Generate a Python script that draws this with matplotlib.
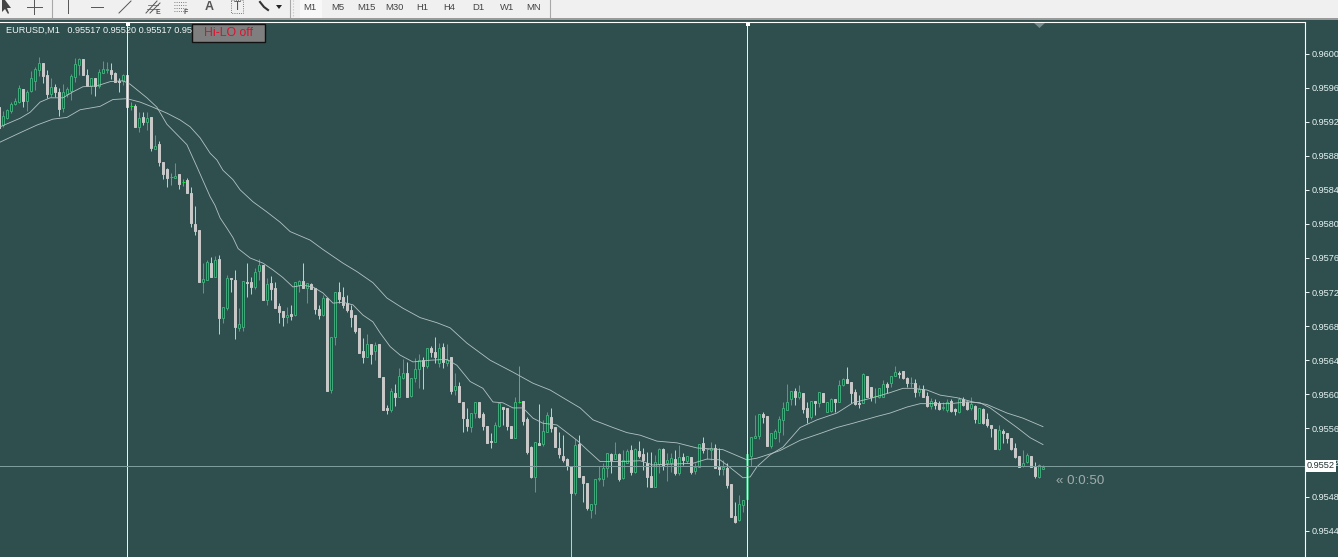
import matplotlib
matplotlib.use('Agg')
import matplotlib.pyplot as plt
import numpy as np
from matplotlib.patches import Rectangle, Polygon
from matplotlib.transforms import blended_transform_factory

plt.rcParams['font.family'] = ['Liberation Sans', 'DejaVu Sans']

# candles, in points (1/100000), oldest first
opens = [95937,
    95916,95924,95933,95941,95943,95958,95944,95956,95968,95981,
    95989,95975,95952,95961,95955,95936,95952,95956,95972,95986,
    95994,95975,95962,95971,95962,95977,95981,95981,95977,95968,
    95968,95975,95938,95938,95914,95925,95920,95925,95888,95894,
    95873,95864,95855,95854,95859,95849,95852,95836,95800,95793,
    95732,95734,95754,95738,95759,95690,95701,95736,95734,95678,
    95679,95732,95732,95726,95745,95752,95711,95731,95725,95704,
    95698,95691,95694,95693,95728,95733,95725,95730,95725,95700,
    95693,95713,95605,95667,95720,95714,95707,95699,95693,95678,
    95651,95644,95659,95651,95659,95620,95584,95581,95602,95597,
    95619,95625,95598,95619,95630,95640,95633,95654,95650,95637,
    95655,95637,95644,95605,95610,95591,95571,95562,95578,95591,
    95577,95563,95545,95544,95563,95585,95584,95563,95549,95591,
    95592,95571,95538,95503,95543,95542,95556,95573,95562,95537,
    95528,95524,95516,95484,95542,95504,95496,95464,95471,95500,
    95500,95514,95530,95524,95530,95502,95519,95535,95509,95533,
    95530,95519,95504,95491,95518,95536,95519,95519,95524,95508,
    95526,95522,95526,95510,95515,95543,95536,95535,95537,95515,
    95512,95514,95495,95457,95453,95470,95477,95528,95549,95551,
    95577,95575,95539,95549,95556,95570,95582,95594,95604,95597,
    95602,95584,95573,95592,95590,95602,95579,95580,95594,95591,
    95611,95618,95615,95603,95590,95590,95622,95609,95598,95597,
    95597,95612,95613,95622,95625,95627,95619,95613,95613,95603,
    95606,95598,95586,95591,95590,95584,95582,95592,95583,95579,
    95595,95591,95584,95586,95566,95583,95571,95564,95559,95536,
    95557,95554,95549,95537,95528,95516,95521,95528,95515,95503,95512]
highs = [95937,
    95933,95935,95943,95948,95963,95958,95957,95980,95984,95996,
    95989,95981,95971,95964,95960,95964,95961,95976,95995,95995,
    95994,95982,95971,95971,95982,95991,95990,95989,95978,95971,
    95976,95976,95943,95941,95931,95931,95931,95925,95904,95897,
    95873,95866,95860,95871,95859,95853,95854,95843,95821,95793,
    95754,95758,95761,95762,95764,95703,95740,95737,95746,95701,
    95733,95754,95738,95748,95759,95752,95737,95739,95732,95707,
    95698,95703,95705,95732,95734,95754,95731,95731,95725,95705,
    95717,95713,95667,95720,95732,95726,95717,95705,95693,95678,
    95666,95671,95659,95661,95659,95620,95588,95607,95612,95631,
    95641,95638,95619,95643,95647,95644,95654,95657,95667,95660,
    95660,95659,95644,95625,95615,95591,95584,95578,95591,95591,
    95579,95563,95554,95568,95590,95585,95584,95563,95597,95633,
    95592,95573,95539,95544,95589,95570,95579,95584,95562,95556,
    95552,95525,95516,95547,95552,95504,95496,95471,95501,95516,
    95519,95531,95531,95544,95531,95535,95536,95541,95537,95545,
    95537,95532,95532,95529,95537,95537,95531,95531,95535,95541,
    95531,95528,95526,95519,95542,95550,95536,95544,95542,95537,
    95523,95519,95495,95474,95482,95476,95530,95550,95576,95577,
    95579,95575,95555,95559,95575,95591,95612,95604,95607,95611,
    95602,95591,95592,95592,95603,95602,95591,95596,95594,95617,
    95619,95632,95615,95606,95599,95625,95622,95609,95607,95607,
    95617,95615,95622,95633,95627,95627,95620,95620,95618,95611,
    95611,95603,95596,95595,95592,95591,95594,95594,95584,95597,
    95597,95592,95597,95588,95584,95584,95578,95564,95559,95564,
    95559,95554,95549,95543,95528,95535,95531,95528,95521,95518,95517]
lows = [95913,
    95914,95923,95930,95940,95942,95937,95933,95955,95957,95974,
    95965,95948,95949,95949,95927,95931,95949,95946,95967,95975,
    95975,95962,95952,95950,95960,95977,95977,95970,95967,95955,
    95963,95936,95934,95914,95908,95916,95910,95886,95888,95868,
    95853,95843,95846,95854,95841,95845,95836,95796,95787,95732,
    95719,95734,95738,95738,95671,95684,95699,95720,95665,95674,
    95674,95714,95718,95724,95734,95711,95705,95711,95701,95684,
    95680,95684,95687,95692,95720,95725,95707,95723,95694,95688,
    95692,95604,95602,95658,95707,95701,95697,95679,95672,95648,
    95637,95644,95636,95640,95620,95582,95577,95579,95586,95597,
    95618,95597,95597,95615,95607,95606,95631,95644,95637,95632,
    95631,95633,95600,95599,95591,95556,95557,95556,95572,95572,
    95558,95543,95537,95544,95562,95564,95558,95549,95549,95590,
    95564,95530,95502,95485,95541,95539,95556,95556,95538,95525,
    95521,95511,95409,95482,95503,95474,95464,95455,95459,95498,
    95492,95503,95508,95524,95498,95500,95519,95505,95508,95525,
    95511,95491,95491,95491,95508,95511,95498,95509,95505,95505,
    95517,95519,95507,95507,95515,95531,95524,95523,95514,95505,
    95505,95490,95456,95449,95451,95462,95477,95516,95549,95548,
    95566,95539,95537,95547,95544,95552,95582,95588,95588,95594,
    95578,95566,95571,95576,95585,95591,95579,95579,95579,95591,
    95610,95613,95590,95588,95584,95590,95597,95592,95590,95596,
    95597,95602,95609,95622,95619,95618,95609,95609,95597,95598,
    95597,95585,95583,95583,95582,95582,95579,95579,95576,95578,
    95586,95582,95582,95566,95566,95565,95562,95550,95536,95535,
    95543,95543,95535,95525,95515,95515,95519,95515,95502,95502,95512]
closes = [95913,
    95927,95934,95941,95944,95960,95944,95955,95971,95982,95989,
    95974,95952,95961,95955,95935,95955,95958,95974,95988,95994,
    95975,95962,95971,95962,95978,95982,95982,95976,95967,95967,
    95975,95937,95938,95914,95924,95920,95924,95889,95891,95873,
    95859,95854,95855,95856,95847,95849,95836,95801,95792,95732,
    95735,95755,95738,95758,95690,95703,95737,95735,95679,95683,
    95733,95731,95726,95744,95752,95711,95730,95724,95701,95697,
    95691,95693,95692,95732,95733,95725,95731,95724,95700,95693,
    95713,95604,95667,95720,95712,95705,95699,95691,95674,95648,
    95644,95659,95647,95658,95620,95582,95581,95604,95597,95622,
    95625,95597,95619,95630,95640,95633,95654,95650,95644,95654,
    95638,95640,95604,95610,95591,95572,95563,95578,95591,95573,
    95563,95543,95544,95564,95590,95583,95563,95549,95591,95591,
    95569,95532,95503,95544,95541,95557,95576,95561,95538,95530,
    95523,95516,95484,95541,95503,95496,95467,95471,95501,95502,
    95514,95531,95523,95530,95500,95523,95533,95509,95536,95528,
    95523,95503,95491,95521,95536,95516,95523,95525,95508,95526,
    95523,95528,95509,95515,95542,95535,95536,95537,95514,95512,
    95515,95494,95456,95450,95471,95476,95530,95550,95551,95577,
    95573,95539,95555,95557,95571,95584,95591,95604,95597,95603,
    95583,95573,95592,95590,95603,95591,95591,95594,95591,95611,
    95618,95613,95602,95589,95589,95624,95597,95597,95598,95607,
    95612,95609,95622,95626,95624,95619,95613,95613,95603,95606,
    95597,95586,95592,95588,95583,95585,95591,95580,95580,95595,
    95588,95583,95589,95571,95584,95566,95564,95561,95536,95558,
    95554,95549,95536,95526,95515,95519,95529,95515,95504,95517,95515]

# moving averages: bar number and level in points
fast_bars = [-0.8,4.2,6.7,9.2,11.7,14.9,17.4,19.9,23.4,26.7,29.9,31.7,35.9,38.4,40.9,45.9,48.4,51.7,52.9,54.2,
    55.9,57.4,58.7,61.7,64.9,67.4,69.9,72.4,74.9,77.4,79.9,82.4,84.9,87.4,89.9,92.4,94.2,96.7,99.2,102.4,
    106.7,110.9,113.4,116.7,119.9,122.4,124.9,127.4,129.9,132.4,134.9,138.4,143.4,145.9,149.2,154.2,159.2,162.4,166.7,172.4,
    175.9,179.2,181.7,184.9,186.7,188.4,191.7,194.9,199.2,203.4,208.4,212.4,217.4,221.7,224.9,227.4,230.9,234.2,238.4,242.4,
    245.9,250.9,254.9,259.9]
fast_ma = [95914,95924,95931,95943,95948,95948,95955,95961,95962,95967,95968,95964,95948,95937,95917,95893,95867,95832,95822,95807,
    95795,95784,95771,95760,95754,95746,95737,95726,95728,95726,95719,95707,95708,95705,95693,95685,95672,95656,95646,95638,
    95640,95641,95634,95615,95607,95591,95590,95584,95584,95572,95566,95564,95546,95535,95521,95521,95522,95517,95518,95519,
    95524,95523,95514,95502,95503,95515,95529,95538,95561,95570,95578,95590,95596,95602,95607,95607,95605,95599,95596,95591,
    95588,95578,95572,95562]
slow_bars = [-0.8,4.2,8.4,12.4,15.9,19.2,24.2,27.4,30.9,34.2,37.4,40.9,44.2,46.7,49.2,51.7,53.4,54.9,57.4,59.2,
    62.4,65.9,69.2,71.7,76.7,79.9,84.9,88.4,92.4,95.9,99.9,104.2,108.4,111.7,115.9,121.7,127.4,132.4,136.7,139.9,
    144.2,147.4,152.4,155.9,159.2,163.4,168.4,173.4,179.9,183.4,185.9,188.4,191.7,194.2,199.2,204.2,208.4,212.4,218.4,221.7,
    225.9,229.2,236.7,240.9,244.2,246.7,249.9,253.4,256.7,259.9]
slow_ma = [95896,95907,95916,95923,95925,95934,95938,95946,95947,95943,95937,95930,95922,95914,95901,95883,95875,95863,95852,95840,
    95826,95814,95802,95791,95781,95770,95754,95744,95731,95713,95701,95690,95684,95678,95660,95640,95626,95613,95605,95596,
    95584,95570,95561,95555,95552,95545,95543,95537,95535,95528,95523,95525,95530,95534,95546,95554,95561,95566,95574,95578,
    95585,95589,95589,95591,95590,95584,95573,95561,95549,95541]

separator_bars = [31, 186]
bid_price = 0.95516
price_ticks = [0.9544,0.9548,0.9552,0.9556,0.9560,0.9564,0.9568,0.9572,0.9576,0.9580,0.9584,0.9588,0.9592,0.9596,0.9600]
timeframes = ['M1','M5','M15','M30','H1','H4','D1','W1','MN']

bg = '#2f4f4f'
green = '#3fa878'
grey = '#c8c8c8'
lime = '#00e830'

o = np.array(opens) / 1e5
h = np.array(highs) / 1e5
l = np.array(lows) / 1e5
c = np.array(closes) / 1e5
bars = np.arange(len(o)) - 1

fig = plt.figure(figsize=(13.38, 5.57), dpi=100, facecolor=bg)
ax = fig.add_axes([0, 0, 1305 / 1338, 535 / 557], facecolor=bg)

up = c > o
down = c < o
flat = c == o
ax.vlines(bars[up], l[up], h[up], color=green, lw=0.72, zorder=2)
ax.vlines(bars[down], l[down], h[down], color=grey, lw=0.72, zorder=2)
ax.vlines(bars[flat], l[flat], h[flat], color=lime, lw=0.72, zorder=2)
ax.bar(bars[up], (c - o)[up], bottom=o[up], width=0.55, facecolor=bg, edgecolor=green, lw=0.72, zorder=3)
ax.bar(bars[down], (c - o)[down], bottom=o[down], width=0.55, facecolor=grey, edgecolor=grey, lw=0.72, zorder=3)
ax.hlines(o[flat], bars[flat] - 0.3, bars[flat] + 0.3, color=lime, lw=0.72, zorder=3)

ax.plot(fast_bars, np.array(fast_ma) / 1e5, color='#b4c2c2', lw=0.6, zorder=4)
ax.plot(slow_bars, np.array(slow_ma) / 1e5, color='#b4c2c2', lw=0.6, zorder=4)

for s in separator_bars:
    ax.axvline(s, color='#e8f0f0', lw=0.72, zorder=5)
ax.axhline(bid_price, color='#7f9c9c', lw=0.72, zorder=5)

ax.set_xlim(-0.825, 325.4)
ax.set_ylim(0.95409, 0.96037)
ax.set_xticks([])
ax.set_yticks(price_ticks)
ax.set_yticklabels(['%.4f' % t for t in price_ticks])
ax.yaxis.tick_right()
ax.tick_params(axis='y', colors='#e8f4f4', length=3, width=0.72, pad=2, labelsize=6.6)
ax.spines['left'].set_visible(False)
ax.spines['bottom'].set_visible(False)
ax.spines['top'].set_color('white')
ax.spines['right'].set_color('white')
ax.spines['top'].set_linewidth(0.8)
ax.spines['right'].set_linewidth(0.8)

trans = blended_transform_factory(ax.transAxes, ax.transData)
ax.text(1.0015, bid_price, '0.9552', transform=trans, ha='left', va='center', fontsize=6.6, color='#203030',
        clip_on=False, zorder=10, bbox=dict(fc='white', ec='none', pad=1.0))

# everything around the chart, in screen pixels
ov = fig.add_axes([0, 0, 1, 1], facecolor='none', zorder=6)
ov.set_xlim(0, 1338)
ov.set_ylim(557, 0)
ov.axis('off')

ov.add_patch(Rectangle((0, 0), 1338, 18, fc='#f0f0f0', ec='none'))
ov.add_patch(Rectangle((0, 18), 1338, 2, fc='#9a9a9a', ec='none'))
ov.add_patch(Rectangle((300, 0), 22, 18, fc='#f8f8f8', ec='none'))

icon = '#555555'
ov.add_patch(Polygon([(2, 0), (2, 12), (5, 9), (8, 14), (9, 13), (7, 8), (11, 8), (5, 0)], fc='#444444', ec='none'))
ov.plot([34, 34], [0, 14], color=icon, lw=0.7)
ov.plot([27, 42], [7, 7], color=icon, lw=0.7)
ov.plot([52, 52], [0, 17], color='#a8a8a8', lw=0.8)
ov.plot([68, 68], [0, 13], color=icon, lw=0.7)
ov.plot([91, 103], [7, 7], color=icon, lw=0.7)
ov.plot([119, 131], [13, 1], color=icon, lw=0.7)
ov.plot([146, 157], [13, 1], color=icon, lw=0.7)
ov.plot([150, 160], [13, 3], color=icon, lw=0.7)
ov.plot([148, 158], [5, 5], color=icon, lw=0.5)
ov.plot([147, 158], [9, 9], color=icon, lw=0.5)
ov.text(158, 13, 'E', fontsize=5, color=icon, ha='center', va='center', fontweight='bold')
for yy in [2, 5, 8, 11]:
    ov.plot([174, 186], [yy, yy], color=icon, lw=0.6, ls=':')
ov.text(186, 13, 'F', fontsize=5, color=icon, ha='center', va='center', fontweight='bold')
ov.text(209, 7, 'A', fontsize=9, color=icon, ha='center', va='center', fontweight='bold')
ov.add_patch(Rectangle((231, 0), 12, 13, fc='none', ec=icon, lw=0.6, ls=':'))
ov.text(237, 7, 'T', fontsize=8.5, color=icon, ha='center', va='center')
ov.plot([260, 264, 268], [2, 7, 10], color='#333333', lw=1.5)
ov.add_patch(Polygon([(276, 5), (282, 5), (279, 9)], fc='#222222', ec='none'))
ov.plot([290, 290], [0, 17], color='#a8a8a8', lw=0.8)
ov.plot([293, 293], [0, 17], color='#c0c0c0', lw=0.8, ls=':')
ov.plot([550, 550], [0, 17], color='#a8a8a8', lw=0.8)
for label, tx in zip(timeframes, [310, 338, 366, 394, 422, 449, 478, 507, 534]):
    ov.text(tx, 7, label, fontsize=6.8, color='#444444', ha='center', va='center')

ov.text(6, 30.5, 'EURUSD,M1   0.95517 0.95520 0.95517 0.95', fontsize=6.6, color='#f0f4f4', ha='left', va='center')
ov.add_patch(Rectangle((191.5, 24), 73.5, 18, fc='#7f7f7f', ec='#111111', lw=1))
ov.text(228.5, 33, 'Hi-LO off', fontsize=8.8, color='#e0102c', ha='center', va='center')
ov.add_patch(Rectangle((125.5, 22), 4, 4, fc='white', ec='none'))
ov.add_patch(Rectangle((745.5, 22), 4, 4, fc='white', ec='none'))
ov.add_patch(Polygon([(1034, 23), (1045, 23), (1039.5, 28)], fc='#778c8c', ec='none'))
ov.text(1056, 481, '\u00ab 0:0:50', fontsize=9.6, color='#a0acac', ha='left', va='center')

fig.savefig('out.png', dpi=100, facecolor=bg)
